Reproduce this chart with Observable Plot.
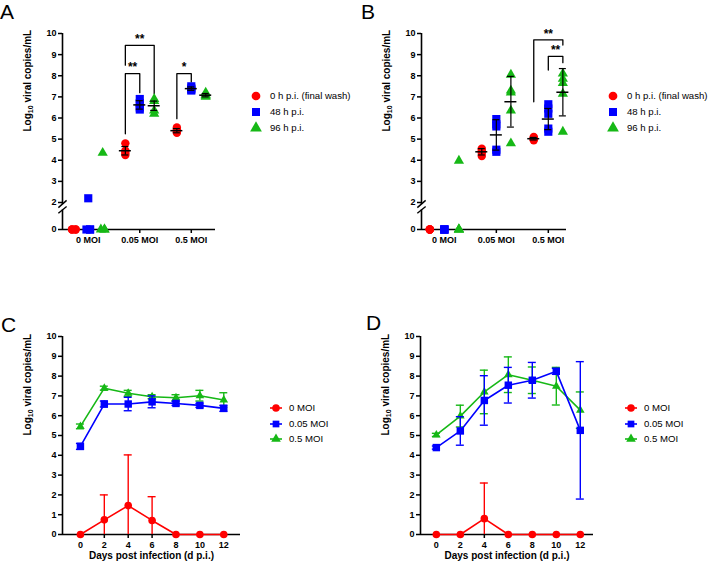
<!DOCTYPE html>
<html>
<head>
<meta charset="utf-8">
<script src="https://cdn.jsdelivr.net/npm/d3@7"></script>
<script src="https://cdn.jsdelivr.net/npm/@observablehq/plot@0.6"></script>
<style>
  html, body { margin: 0; padding: 0; background: #fff; }
  #root { position: relative; width: 709px; height: 565px; overflow: hidden; font-family: "Liberation Sans", Arial, sans-serif; }
  #root > svg { position: absolute; overflow: visible; }
  .letter { position: absolute; font-size: 21px; line-height: normal; color: #000; }
  .legtext { position: absolute; font-size: 9.6px; line-height: 12px; white-space: nowrap; color: #000; }
  .legsym { position: absolute; }
</style>
</head>
<body>
<div id="root"></div>
<script>
// ---------------- DATA ----------------
const groups = ["0 MOI", "0.05 MOI", "0.5 MOI"];
const timepoints = ["0 h p.i. (final wash)", "48 h p.i.", "96 h p.i."];
const moiSeries = ["0 MOI", "0.05 MOI", "0.5 MOI"];
const days = [0, 2, 4, 6, 8, 10, 12];
const yTicksBroken = [0, 2, 3, 4, 5, 6, 7, 8, 9, 10];
const yTicks = [0, 1, 2, 3, 4, 5, 6, 7, 8, 9, 10];
const yTitleParts = ["Log", "10", " viral copies/mL"];
const yTitle = yTitleParts.join("");
const xTitle = "Days post infection (d p.i.)";

// Panel A: replicate values per MOI group (0, 0.05, 0.5)
const A_0h  = [[0, 0, 0, 0], [4.8, 4.45, 4.35, 4.25], [5.55, 5.45, 5.35, 5.3]];
const A_48h = [[2.2, 0, 0, 0], [6.9, 6.7, 6.5, 6.4], [7.5, 7.4, 7.35, 7.3]];
const A_96h = [[4.35, 0, 0, 0], [6.9, 6.8, 6.35, 6.2], [7.2, 7.1, 7.05, 7.0]];
const A_mean = [[null, 4.45, 5.4], [null, 6.62, 7.39], [null, 6.58, 7.08]];
const A_sd   = [[null, 0.2, 0.1], [null, 0.2, 0.08], [null, 0.22, 0.08]];
const A_brackets = [
  {from: [1, 0], to: [1, 1], top: 8.1, left: 5.25, right: 7.2, label: "**"},
  {from: [1, 0], to: [1, 2], top: 9.44, left: 8.5, right: 7.15, label: "**"},
  {from: [2, 0], to: [2, 1], top: 8.1, left: 5.97, right: 7.7, label: "*"}
];

// Panel B
const B_0h  = [[0, 0, 0, 0], [4.55, 4.45, 4.35, 4.2], [5.1, 5.05, 5.0, 4.95]];
const B_48h = [[0, 0, 0, 0], [5.95, 5.7, 5.6, 4.5, 4.4], [6.65, 6.45, 6.2, 5.5, 5.35]];
const B_96h = [[3.98, 0, 0, 0], [8.05, 7.3, 7.2, 6.35, 4.8], [8.1, 7.85, 7.65, 7.15, 5.35]];
const B_mean = [[null, 4.4, 5.02], [null, 5.2, 5.95], [null, 6.77, 7.22]];
const B_sd   = [[null, 0.15, 0.06], [null, 0.72, 0.5], [null, 1.2, 1.12]];
const B_brackets = [
  {from: [2, 0], to: [2, 2], top: 9.7, left: 6.77, right: 9.45, label: "**"},
  {from: [2, 1], to: [2, 2], top: 8.92, left: 8.27, right: 8.62, label: "**"}
];

// Panel C: mean and SD per day for 0, 0.05, 0.5 MOI
const C_mean = [
  [0, 0.74, 1.46, 0.71, 0, 0, 0],
  [4.45, 6.59, 6.59, 6.7, 6.62, 6.52, 6.37],
  [5.46, 7.39, 7.13, 6.96, 6.91, 7.01, 6.79]
];
const C_sd = [
  [0, 1.26, 2.56, 1.2, 0, 0, 0],
  [0.15, 0.15, 0.34, 0.3, 0.1, 0.1, 0.15],
  [0.12, 0.1, 0.15, 0.1, 0.15, 0.27, 0.37]
];

// Panel D
const D_mean = [
  [0, 0, 0.8, 0, 0, 0, 0],
  [4.39, 5.23, 6.77, 7.54, 7.79, 8.24, 5.26],
  [5.03, 5.98, 7.2, 8.07, 7.79, 7.49, 6.28]
];
const D_sd = [
  [0, 0, 1.8, 0, 0, 0, 0],
  [0.08, 0.72, 1.25, 0.9, 0.9, 0.15, 3.47],
  [0.08, 0.55, 1.1, 0.9, 0.67, 0.95, 0.92]
];

// ---------------- STYLE ----------------
const COLORS = ["#ff0000", "#0000ff", "#16b816"];
const SYMBOLS = ["circle", "square", "triangle"];
const OFFSET = [-0.28, 0, 0.28];
const FONT = "'Liberation Sans', Arial, sans-serif";
const root = document.getElementById("root");

// broken y axis: segment 0..2 is compressed (27px for 2 units vs 21.1px per unit above 2)
const BREAK = 2, LOWFACTOR = (27 / 2) / 21.125;
const brk = v => v >= BREAK ? v : BREAK - (BREAK - v) * LOWFACTOR;
const unbrk = t => t >= BREAK ? t : BREAK - (BREAK - t) / LOWFACTOR;

function place(el, left, top) {
  el.style.left = left + "px";
  el.style.top = top + "px";
  root.appendChild(el);
}

// render the "10" of the axis title as a real subscript
function subscriptTitle(svg) {
  d3.select(svg).selectAll("text").filter(function () { return this.textContent === yTitle; })
    .each(function () {
      const t = d3.select(this);
      t.text(null);
      t.append("tspan").text(yTitleParts[0]);
      t.append("tspan").attr("dy", 2.5).attr("font-size", 7).text(yTitleParts[1]);
      t.append("tspan").attr("dy", -2.5).text(yTitleParts[2]);
    });
  return svg;
}

function scatterPanel({values, means, sds, brackets, xDomain, width, marginLeft, marginRight, jitter}) {
  const pts = [];
  values.forEach((byGroup, si) => byGroup.forEach((reps, gi) => reps.forEach((v, j) => {
    const jx = (v === 0 && jitter) ? (j % 2 ? jitter : -jitter) : 0;
    pts.push({s: si, x: gi + OFFSET[si] + jx, y: v});
  })));
  const stats = [];
  means.forEach((byGroup, si) => byGroup.forEach((m, gi) => {
    if (m != null) stats.push({x: gi + OFFSET[si], m, lo: m - sds[si][gi], hi: m + sds[si][gi]});
  }));
  const br = brackets.map(b => ({
    x1: b.from[0] + OFFSET[b.from[1]], x2: b.to[0] + OFFSET[b.to[1]],
    top: b.top, left: b.left, right: b.right, label: b.label
  }));
  const brPath = br.flatMap((b, k) => [
    {k, x: b.x1, y: b.left}, {k, x: b.x1, y: b.top}, {k, x: b.x2, y: b.top}, {k, x: b.x2, y: b.right}
  ]);
  const xmin = xDomain[0];
  const dotMarks = [0, 1, 2].map(si => Plot.dot(pts.filter(d => d.s === si), {
    x: "x", y: d => brk(d.y), symbol: () => SYMBOLS[si], fill: COLORS[si], stroke: "none",
    r: si === 0 ? 4.2 : si === 1 ? 4.6 : 3.8
  }));
  return subscriptTitle(Plot.plot({
    width, height: 260, marginLeft, marginRight, marginTop: 33, marginBottom: 31,
    style: {fontFamily: FONT, background: "transparent", color: "#000", overflow: "visible"},
    x: {domain: xDomain},
    y: {domain: [brk(0), 10]},
    symbol: {type: "identity"},
    marks: [
      Plot.ruleX([{y1: 0, y2: 1.45}, {y1: 1.85, y2: 10}], {x: () => xmin, y1: d => brk(d.y1), y2: d => brk(d.y2), strokeWidth: 1.6}),
      Plot.link([{a: 1.2, b: 1.7}, {a: 1.62, b: 2.1}], {x1: () => xmin - 0.08, x2: () => xmin + 0.08, y1: d => brk(d.a), y2: d => brk(d.b), strokeWidth: 1.4}),
      Plot.ruleY([brk(0)], {strokeWidth: 1.6}),
      Plot.axisY(yTicksBroken.map(brk), {tickFormat: t => String(Math.round(unbrk(t))), tickSize: 4, tickPadding: 2, fontWeight: "bold", fontSize: 9, strokeWidth: 1.5, label: null}),
      Plot.axisX({ticks: [0, 1, 2], tickFormat: i => groups[i], tickSize: 4, tickPadding: 3, fontWeight: "bold", fontSize: 9, strokeWidth: 1.5, label: null}),
      Plot.text([yTitle], {frameAnchor: "left", rotate: -90, dx: -35, fontWeight: "bold", fontSize: 10}),
      Plot.line(brPath, {x: "x", y: d => brk(d.y), z: "k", strokeWidth: 1.3, curve: "linear"}),
      Plot.text(br, {x: d => (d.x1 + d.x2) / 2, y: d => brk(d.top), text: "label", dy: -6, fontSize: 12, fontWeight: "bold"}),
      ...dotMarks,
      Plot.ruleX(stats, {x: "x", y1: d => brk(d.lo), y2: d => brk(d.hi), strokeWidth: 1.2}),
      Plot.ruleY(stats, {y: d => brk(d.m), x1: "x", x2: "x", insetLeft: -6, insetRight: -6, strokeWidth: 1.5}),
      Plot.ruleY(stats, {y: d => brk(d.lo), x1: "x", x2: "x", insetLeft: -3.5, insetRight: -3.5, strokeWidth: 1.2}),
      Plot.ruleY(stats, {y: d => brk(d.hi), x1: "x", x2: "x", insetLeft: -3.5, insetRight: -3.5, strokeWidth: 1.2})
    ]
  }));
}

function linePanel({means, sds, xDomain, width, marginLeft, marginRight}) {
  const rows = [];
  means.forEach((arr, si) => arr.forEach((m, di) => {
    const sd = sds[si][di];
    rows.push({s: si, day: days[di], m, sd, lo: Math.max(0, m - sd), hi: m + sd, loCap: m - sd >= 0});
  }));
  const xmin = xDomain[0];
  const seriesMarks = [2, 1, 0].flatMap(si => {
    const r = rows.filter(d => d.s === si);
    const e = r.filter(d => d.sd > 0);
    return [
      Plot.ruleX(e, {x: "day", y1: "lo", y2: "hi", stroke: COLORS[si], strokeWidth: 1.4}),
      Plot.ruleY(e, {y: "hi", x1: "day", x2: "day", insetLeft: -4, insetRight: -4, stroke: COLORS[si], strokeWidth: 1.4}),
      Plot.ruleY(e.filter(d => d.loCap), {y: "lo", x1: "day", x2: "day", insetLeft: -4, insetRight: -4, stroke: COLORS[si], strokeWidth: 1.4}),
      Plot.line(r, {x: "day", y: "m", stroke: COLORS[si], strokeWidth: 1.6}),
      Plot.dot(r, {x: "day", y: "m", symbol: () => SYMBOLS[si], fill: COLORS[si], stroke: "none",
        r: si === 0 ? 3.8 : si === 1 ? 4.2 : 3.2})
    ];
  });
  return subscriptTitle(Plot.plot({
    width, height: 295, marginLeft, marginRight, marginTop: 66, marginBottom: 31,
    style: {fontFamily: FONT, background: "transparent", color: "#000", overflow: "visible"},
    x: {domain: xDomain},
    y: {domain: [0, 10]},
    symbol: {type: "identity"},
    marks: [
      Plot.ruleX([0], {x: () => xmin, y1: 0, y2: 10, strokeWidth: 1.6}),
      Plot.ruleY([0], {strokeWidth: 1.6}),
      Plot.axisY({ticks: yTicks, tickSize: 4, tickPadding: 2, fontWeight: "bold", fontSize: 9, strokeWidth: 1.5, label: null}),
      Plot.axisX({ticks: days, tickSize: 4, tickPadding: 3, fontWeight: "bold", fontSize: 9, strokeWidth: 1.5, label: null}),
      Plot.text([yTitle], {frameAnchor: "left", rotate: -90, dx: -35, fontWeight: "bold", fontSize: 10}),
      Plot.text([xTitle], {frameAnchor: "bottom", dy: 24, fontWeight: "bold", fontSize: 10}),
      ...seriesMarks
    ]
  }));
}

function legend({labels, symX, textX, rows, withLine, sizes}) {
  const symGen = [d3.symbolCircle, d3.symbolSquare, d3.symbolTriangle];
  labels.forEach((lab, i) => {
    const svg = d3.create("svg").attr("width", 20).attr("height", 14).attr("class", "legsym");
    if (withLine) svg.append("line").attr("x1", 4).attr("x2", 16).attr("y1", 7).attr("y2", 7)
      .attr("stroke", COLORS[i]).attr("stroke-width", 1.6);
    svg.append("path").attr("transform", "translate(10,7)")
      .attr("d", d3.symbol(symGen[i], sizes[i])()).attr("fill", COLORS[i]);
    place(svg.node(), symX - 10, rows[i] - 7);
    const t = document.createElement("div");
    t.className = "legtext";
    t.textContent = lab;
    place(t, textX, rows[i] - 6);
  });
}

function letter(ch, left, top) {
  const d = document.createElement("div");
  d.className = "letter";
  d.textContent = ch;
  place(d, left, top);
}

// ---------------- RENDER ----------------
const pA = scatterPanel({values: [A_0h, A_48h, A_96h], means: A_mean, sds: A_sd, brackets: A_brackets,
  xDomain: [-0.5, 2.47], width: 240, marginLeft: 62, marginRight: 25, jitter: 0.035});
place(pA, 0, 0);
const pB = scatterPanel({values: [B_0h, B_48h, B_96h], means: B_mean, sds: B_sd, brackets: B_brackets,
  xDomain: [-0.44, 2.35], width: 240, marginLeft: 61, marginRight: 34, jitter: 0});
place(pB, 360, 0);
const pC = linePanel({means: C_mean, sds: C_sd, xDomain: [-1.5, 13.4], width: 250, marginLeft: 62, marginRight: 10});
place(pC, 0, 270);
const pD = linePanel({means: D_mean, sds: D_sd, xDomain: [-1.32, 13.1], width: 250, marginLeft: 60, marginRight: 17});
place(pD, 360, 270);

legend({labels: timepoints, symX: 256, textX: 270, rows: [96, 112, 128], withLine: false, sizes: [60, 64, 60]});
legend({labels: timepoints, symX: 613, textX: 627, rows: [96, 112, 128], withLine: false, sizes: [60, 64, 60]});
legend({labels: moiSeries, symX: 276, textX: 289, rows: [408, 423.5, 439], withLine: true, sizes: [45, 45, 40]});
legend({labels: moiSeries, symX: 631, textX: 644, rows: [408, 423.5, 439], withLine: true, sizes: [45, 45, 40]});

letter("A", 0, 0);
letter("B", 361, 0);
letter("C", 1, 313);
letter("D", 366, 311);
</script>
</body>
</html>
